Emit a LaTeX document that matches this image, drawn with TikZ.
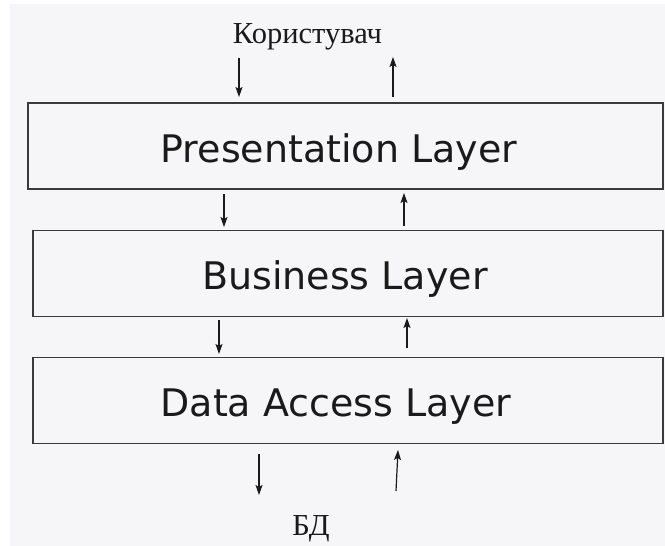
\documentclass[tikz,border=0pt]{standalone}
\usepackage{fontspec}
\usetikzlibrary{arrows.meta}
\newfontfamily\layerfont{DejaVu Sans}
\newfontfamily\captionfont{Liberation Serif}
\definecolor{paper}{HTML}{F6F6F8}
\definecolor{edge}{HTML}{3A3A3A}
\definecolor{ink}{HTML}{1A1A1A}
\begin{document}
\begin{tikzpicture}[x=1pt,y=-1pt,
  layerbox/.style={draw=edge, line width=1.6pt, fill=paper, inner sep=0pt,
    minimum width=#1, minimum height=86pt},
  layertext/.style={anchor=base, inner sep=0pt, text=ink,
    font=\layerfont\fontsize{38}{40}\selectfont},
  captiontext/.style={anchor=base, inner sep=0pt, text=ink,
    font=\captionfont\fontsize{30.5}{32}\selectfont},
  flow/.style={draw=ink, line width=1.2pt,
    -{Stealth[length=10pt,width=7pt,inset=2pt]}}]
  % canvas
  \useasboundingbox (0,0) rectangle (665,546);
  \fill[white] (0,0) rectangle (665,546);
  \fill[paper] (10,4) rectangle (665,546);

  % the three layers
  \node[layerbox=635pt] (pres) at (345.5,146) {};
  \node[layerbox=630pt] (bus)  at (348,273.5) {};
  \node[layerbox=630pt] (data) at (348,400.5) {};
  \node[layertext] (prestext) at (339,162) {Presentation Layer};
  \node[layertext] (bustext)  at (345,289) {Business Layer};
  \node[layertext] (datatext) at (336,416) {Data Access Layer};

  % outer ends
  \node[captiontext] (user) at (307.5,43) {Користувач};
  \node[captiontext] (db)   at (311,535) {БД};

  % arrow end points
  \coordinate (a1s) at (239,58);  \coordinate (a1e) at (239,97);
  \coordinate (b1s) at (393,97);  \coordinate (b1e) at (393,57);
  \coordinate (a2s) at (224,194); \coordinate (a2e) at (224,227);
  \coordinate (b2s) at (404,226); \coordinate (b2e) at (404,193);
  \coordinate (a3s) at (219,320); \coordinate (a3e) at (219,354);
  \coordinate (b3s) at (407,348); \coordinate (b3e) at (407,318);
  \coordinate (a4s) at (259,454); \coordinate (a4e) at (259,495);
  \coordinate (b4s) at (396,491); \coordinate (b4e) at (398,450);

  \draw[flow] (a1s) -- (a1e);
  \draw[flow] (b1s) -- (b1e);
  \draw[flow] (a2s) -- (a2e);
  \draw[flow] (b2s) -- (b2e);
  \draw[flow] (a3s) -- (a3e);
  \draw[flow] (b3s) -- (b3e);
  \draw[flow] (a4s) -- (a4e);
  \draw[flow] (b4s) -- (b4e);
\end{tikzpicture}
\end{document}
